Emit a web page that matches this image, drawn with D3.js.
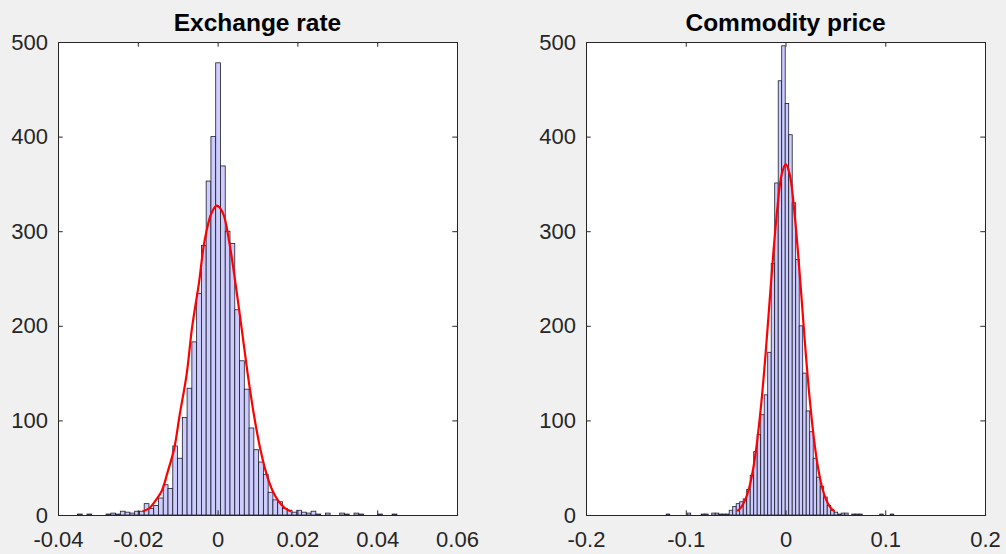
<!DOCTYPE html>
<html>
<head>
<meta charset="utf-8">
<script src="https://cdn.jsdelivr.net/npm/d3@7"></script>
<style>
body { margin: 0; background: #f0f0f0; }
svg { display: block; font-family: Arial, "Liberation Sans", Helvetica, sans-serif; }
.bar { fill: #ccccff; stroke: #1c1c2a; stroke-width: 0.8; }
.fit { fill: none; stroke: #ff0000; stroke-width: 2.2; }
.axis .domain { display: none; }
.axis .tick line { stroke: #262626; }
.axis .tick text { fill: #262626; font-size: 22px; }
.box { fill: none; stroke: #262626; stroke-width: 1; }
.title { font-size: 24.5px; font-weight: bold; fill: #000; text-anchor: middle; }
</style>
</head>
<body>
<svg id="chart" width="1006" height="554"></svg>
<script>
//histogram counts, one per bin (left to right)
var exchangeBinStart = -0.03513, exchangeBinWidth = 0.001195;
var exchangeCounts = [1, 0, 1, 0, 0, 0, 1, 2, 1, 4, 3, 2, 4, 4, 12, 7, 10, 18, 32, 28, 73, 60, 103, 134, 183, 234, 285, 353, 400,
	478, 369, 300, 287, 217, 163, 133, 92, 69, 56, 43, 24, 16, 14, 7, 5, 3, 5, 3, 2, 4,
	1, 0, 2, 0, 0, 2, 1, 0, 2, 1, 0, 0, 0, 1, 0, 0, 1];
var commodityBinStart = -0.1196, commodityBinWidth = 0.003509;
var commodityCounts = [1, 0, 0, 0, 0, 0, 2, 0, 0, 0, 1, 1, 0, 2, 2, 1, 1, 1, 5, 9, 12, 14, 17, 27, 42, 67, 85, 106, 127, 172, 266, 351, 459,
	496, 435, 402, 330, 270, 200, 150, 110, 88, 60, 40, 30, 19, 10, 5, 3, 1, 2, 2, 0, 1, 1, 1, 0, 0, 0, 0, 0, 1, 0, 0, 1];

//points of the red fitted curves
var exchangeFitX = [-0.0188, -0.01705, -0.0157, -0.01395, -0.0126, -0.01085, -0.0095, -0.00775, -0.0064, -0.00465, -0.0033, -0.00155, -0.0002,
	0.00135, 0.0029, 0.00445, 0.0060, 0.00755, 0.0091, 0.01065, 0.0122, 0.01375, 0.0153, 0.01685, 0.0184];
var exchangeFitY = [3.6, 7.4, 14.4, 25.9, 44.3, 70.8, 106, 149, 198, 246, 289, 319, 327,
	319, 289, 246, 198, 149, 106, 70.8, 44.3, 25.9, 14.4, 7.4, 3.6];
var commodityFitX = [-0.0484, -0.04435, -0.0403, -0.03625, -0.0322, -0.02815, -0.0241, -0.02005, -0.016, -0.01195, -0.0079, -0.00385, 0.0002,
	0.00425, 0.0083, 0.01235, 0.0164, 0.02045, 0.0245, 0.02855, 0.0326, 0.03665, 0.0407, 0.04475, 0.0488];
var commodityFitY = [4.1, 8.4, 16.3, 29.4, 50.2, 80.3, 120, 169, 225, 280, 327, 360, 371,
	360, 327, 280, 225, 169, 120, 80.3, 50.2, 29.4, 16.3, 8.4, 4.1];

var yTicks = [0, 100, 200, 300, 400, 500];
var exchangeTicks = [-0.04, -0.02, 0, 0.02, 0.04, 0.06];
var commodityTicks = [-0.2, -0.1, 0, 0.1, 0.2];

var svg = d3.select('#chart');
var TICK = 4.7;

function tickLabel(d) {
	return d === 0 ? '0' : String(+d.toFixed(2));
}

function plotHistogram(left, title, binStart, binWidth, counts, fitX, fitY, xTicks) {
	var margin = {top: 42, left: left};
	var graph_w = 399, graph_h = 473;
	var g = svg.append('g')
		.attr('transform', 'translate(' + margin.left + ',' + margin.top + ')');

	var x = d3.scaleLinear()
		.domain([xTicks[0], xTicks[xTicks.length - 1]])
		.range([0, graph_w]);
	var y = d3.scaleLinear()
		.domain([0, 500])
		.range([graph_h, 0]);

	g.append('rect')
		.attr('width', graph_w)
		.attr('height', graph_h)
		.attr('fill', '#fff');

	g.selectAll('rect.bar')
		.data(counts)
		.enter().append('rect')
		.attr('class', 'bar')
		.attr('x', function(d, i) { return x(binStart + i * binWidth); })
		.attr('width', function(d, i) { return x(binStart + (i + 1) * binWidth) - x(binStart + i * binWidth); })
		.attr('y', function(d) { return y(d); })
		.attr('height', function(d) { return graph_h - y(d); });

	var line = d3.line()
		.x(function(d) { return x(d); })
		.y(function(d, i) { return y(fitY[i]); })
		.curve(d3.curveCatmullRom);

	g.append('path')
		.datum(fitX)
		.attr('class', 'fit')
		.attr('d', line);

	// inward ticks on all four sides, like a boxed matlab axes
	g.append('g')
		.attr('class', 'axis')
		.attr('transform', 'translate(0,' + graph_h + ')')
		.call(d3.axisBottom(x).tickValues(xTicks).tickFormat(tickLabel)
			.tickSizeInner(-TICK).tickSizeOuter(0).tickPadding(16));
	g.append('g')
		.attr('class', 'axis')
		.call(d3.axisTop(x).tickValues(xTicks).tickFormat('')
			.tickSizeInner(-TICK).tickSizeOuter(0));
	g.append('g')
		.attr('class', 'axis')
		.call(d3.axisLeft(y).tickValues(yTicks)
			.tickSizeInner(-TICK).tickSizeOuter(0).tickPadding(10));
	g.append('g')
		.attr('class', 'axis')
		.attr('transform', 'translate(' + graph_w + ',0)')
		.call(d3.axisRight(y).tickValues(yTicks).tickFormat('')
			.tickSizeInner(-TICK).tickSizeOuter(0));

	g.append('rect')
		.attr('class', 'box')
		.attr('x', 0.5)
		.attr('y', 0.5)
		.attr('width', graph_w)
		.attr('height', graph_h);

	g.append('text')
		.attr('class', 'title')
		.attr('x', graph_w / 2)
		.attr('y', -11)
		.text(title);
}

plotHistogram(58, 'Exchange rate', exchangeBinStart, exchangeBinWidth, exchangeCounts, exchangeFitX, exchangeFitY, exchangeTicks);
plotHistogram(586, 'Commodity price', commodityBinStart, commodityBinWidth, commodityCounts, commodityFitX, commodityFitY, commodityTicks);
</script>
</body>
</html>
